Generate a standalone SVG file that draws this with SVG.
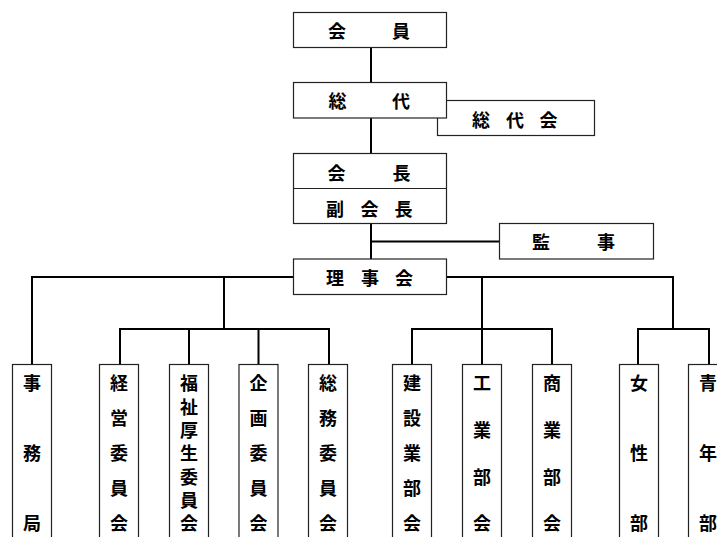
<svg xmlns="http://www.w3.org/2000/svg" width="717" height="537" viewBox="0 0 717 537">
<style>
.box{fill:#fff;stroke:#222;stroke-width:1.2}
.ln{stroke:#000;stroke-width:2;fill:none}
text{font-family:"Noto Sans CJK JP","Noto Sans CJK SC",sans-serif;font-weight:700;font-size:18px;fill:#000;text-anchor:middle;dominant-baseline:central}
text.v{writing-mode:vertical-rl;text-anchor:start;dominant-baseline:central}
.s3{letter-spacing:52px}
.s4{letter-spacing:28.67px}
.s5{letter-spacing:17px}
.s7{letter-spacing:5.33px}
tspan.e{letter-spacing:0}
</style>
<rect width="717" height="537" fill="#fff"/>
<g id="connectors">
<line class="ln" x1="371" y1="47" x2="371" y2="82"/>
<line class="ln" x1="371" y1="118" x2="371" y2="153"/>
<line class="ln" x1="371" y1="223" x2="371" y2="259"/>
<line class="ln" x1="371" y1="241.5" x2="499" y2="241.5"/>
<line class="ln" x1="32" y1="277" x2="674" y2="277"/>
<line class="ln" x1="32" y1="276" x2="32" y2="364"/>
<line class="ln" x1="224" y1="277" x2="224" y2="329"/>
<line class="ln" x1="119" y1="329" x2="330" y2="329"/>
<line class="ln" x1="120" y1="328" x2="120" y2="364"/>
<line class="ln" x1="189" y1="329" x2="189" y2="364"/>
<line class="ln" x1="258.5" y1="329" x2="258.5" y2="364"/>
<line class="ln" x1="329" y1="328" x2="329" y2="364"/>
<line class="ln" x1="482" y1="277" x2="482" y2="364"/>
<line class="ln" x1="411" y1="329" x2="553" y2="329"/>
<line class="ln" x1="412" y1="328" x2="412" y2="364"/>
<line class="ln" x1="552" y1="328" x2="552" y2="364"/>
<line class="ln" x1="673" y1="276" x2="673" y2="329"/>
<line class="ln" x1="637" y1="329" x2="710" y2="329"/>
<line class="ln" x1="638" y1="328" x2="638" y2="364"/>
<line class="ln" x1="709" y1="328" x2="709" y2="364"/>
</g>
<g id="member">
<rect class="box" x="293.5" y="12.5" width="153" height="35"/>
<text x="337" y="30">会</text><text x="401" y="30">員</text>
</g>
<g id="soudaikai">
<rect class="box" x="437.5" y="100.5" width="157" height="35"/>
<text x="481" y="118.5">総</text><text x="515" y="118.5">代</text><text x="548.5" y="118.5">会</text>
</g>
<g id="soudai">
<rect class="box" x="293.5" y="82.5" width="153" height="35.5"/>
<text x="337.5" y="99.5">総</text><text x="401" y="99.5">代</text>
</g>
<g id="kaichou">
<rect class="box" x="293.5" y="153.5" width="153" height="70"/>
<line x1="293.5" y1="188.5" x2="446.5" y2="188.5" stroke="#222" stroke-width="1.2"/>
<text x="336.5" y="171.5">会</text><text x="401.5" y="171.5">長</text>
<text x="335" y="207.5">副</text><text x="369.5" y="207.5">会</text><text x="403.5" y="207.5">長</text>
</g>
<g id="kanji">
<rect class="box" x="499.5" y="223.5" width="154" height="35.5"/>
<text x="541" y="241">監</text><text x="606" y="241">事</text>
</g>
<g id="rijikai">
<rect class="box" x="293.5" y="259" width="153" height="35.5"/>
<text x="335" y="277">理</text><text x="370" y="277">事</text><text x="404" y="277">会</text>
</g>
<g id="jimukyoku">
<rect class="box" x="12.5" y="364.5" width="39" height="180"/>
<text class="v s3" x="32" y="374.5">事務<tspan class="e">局</tspan></text>
</g>
<g id="keiei">
<rect class="box" x="99.5" y="364.5" width="39" height="180"/>
<text class="v s5" x="119" y="374.5">経営委員<tspan class="e">会</tspan></text>
</g>
<g id="fukushi">
<rect class="box" x="169.5" y="364.5" width="39" height="180"/>
<text class="v s7" x="189" y="374.5">福祉厚生委員<tspan class="e">会</tspan></text>
</g>
<g id="kikaku">
<rect class="box" x="239" y="364.5" width="39" height="180"/>
<text class="v s5" x="258.5" y="374.5">企画委員<tspan class="e">会</tspan></text>
</g>
<g id="soumu">
<rect class="box" x="308.5" y="364.5" width="39" height="180"/>
<text class="v s5" x="328" y="374.5">総務委員<tspan class="e">会</tspan></text>
</g>
<g id="kensetsu">
<rect class="box" x="392.5" y="364.5" width="39" height="180"/>
<text class="v s5" x="412" y="374.5">建設業部<tspan class="e">会</tspan></text>
</g>
<g id="kougyou">
<rect class="box" x="462.5" y="364.5" width="39" height="180"/>
<text class="v s4" x="482" y="374.5">工業部<tspan class="e">会</tspan></text>
</g>
<g id="shougyou">
<rect class="box" x="532.5" y="364.5" width="39" height="180"/>
<text class="v s4" x="552" y="374.5">商業部<tspan class="e">会</tspan></text>
</g>
<g id="josei">
<rect class="box" x="619.5" y="364.5" width="39" height="180"/>
<text class="v s3" x="639" y="374.5">女性<tspan class="e">部</tspan></text>
</g>
<g id="seinen">
<rect class="box" x="688.5" y="364.5" width="39" height="180"/>
<text class="v s3" x="708" y="374.5">青年<tspan class="e">部</tspan></text>
</g>
</svg>
